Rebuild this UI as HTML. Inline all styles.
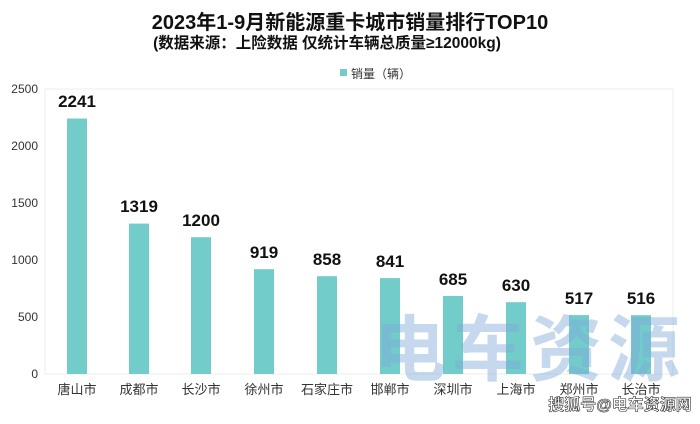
<!DOCTYPE html><html><head><meta charset="utf-8"><style>
body{margin:0;background:#fff;}
svg text{font-family:"Liberation Sans","Noto Sans CJK SC",sans-serif;}
</style></head><body>
<svg width="700" height="419" xmlns="http://www.w3.org/2000/svg">
<rect width="700" height="419" fill="#fff"/>
<text x="350" y="29" text-anchor="middle" font-size="20" font-weight="bold" fill="#111">2023年1-9月新能源重卡城市销量排行TOP10</text>
<text x="327" y="48" text-anchor="middle" font-size="15.5" font-weight="bold" fill="#111">(数据来源：上险数据 仅统计车辆总质量≥12000kg)</text>
<rect x="340" y="69" width="7" height="7" fill="#72CCCA"/>
<text x="351" y="78" font-size="12" fill="#333">销量（辆）</text>
<rect x="45" y="89" width="628" height="285" fill="none" stroke="#eee" stroke-width="1"/>
<g font-size="12" fill="#333" text-anchor="end">
<text x="38" y="93">2500</text><text x="38" y="150">2000</text><text x="38" y="207">1500</text><text x="38" y="264">1000</text><text x="38" y="321">500</text><text x="38" y="378">0</text>
</g>
<g fill="#72CCCA">
<rect x="67" y="118.5" width="20" height="255.5"/>
<rect x="129" y="223.6" width="20" height="150.4"/>
<rect x="191" y="237.2" width="20" height="136.8"/>
<rect x="254" y="269.2" width="20" height="104.8"/>
<rect x="317" y="276.2" width="20" height="97.8"/>
<rect x="380" y="278.1" width="20" height="95.9"/>
<rect x="443" y="295.9" width="20" height="78.1"/>
<rect x="506" y="302.2" width="20" height="71.8"/>
<rect x="569" y="315.1" width="20" height="58.9"/>
<rect x="631" y="315.2" width="20" height="58.8"/>
</g>
<g font-size="17" font-weight="bold" fill="#111" text-anchor="middle">
<text x="77" y="107">2241</text><text x="139" y="212">1319</text><text x="201" y="226">1200</text><text x="264" y="258">919</text><text x="327" y="265">858</text><text x="390" y="267">841</text><text x="453" y="285">685</text><text x="516" y="291">630</text><text x="579" y="304">517</text><text x="641" y="304">516</text>
</g>
<g font-size="13" fill="#333" text-anchor="middle">
<text x="77" y="394">唐山市</text><text x="139" y="394">成都市</text><text x="201" y="394">长沙市</text><text x="264" y="394">徐州市</text><text x="327" y="394">石家庄市</text><text x="390" y="394">邯郸市</text><text x="453" y="394">深圳市</text><text x="516" y="394">上海市</text><text x="579" y="394">郑州市</text><text x="641" y="394">长治市</text>
</g>
<text x="530" y="375" text-anchor="middle" font-size="72" font-weight="bold" fill="#7fa8d8" fill-opacity="0.45" letter-spacing="6">电车资源</text>
<text x="620" y="410" text-anchor="middle" font-size="16" font-weight="bold" fill="#fff" stroke="#333" stroke-width="0.6">搜狐号@电车资源网</text>
</svg>
</body></html>
